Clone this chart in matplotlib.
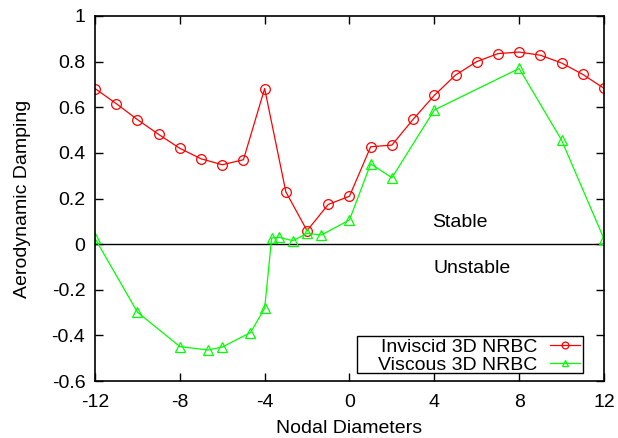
import matplotlib.pyplot as plt
from matplotlib.patches import Rectangle
import numpy as np

plt.rcParams['font.family'] = ['Liberation Sans', 'DejaVu Sans']
plt.rcParams['font.size'] = 14
plt.rcParams['axes.unicode_minus'] = False

# inviscid 3D NRBC: every nodal diameter from -12 to 12
nd_inviscid = np.arange(-12, 13)
damp_inviscid = [0.682, 0.616, 0.546, 0.481, 0.42, 0.374, 0.348, 0.37, 0.682,
                 0.229, 0.059, 0.174, 0.21, 0.427, 0.434, 0.547, 0.652, 0.741,
                 0.80, 0.835, 0.842, 0.828, 0.794, 0.744, 0.683]

# viscous 3D NRBC
nd_viscous = [-12, -10, -8, -6.67, -6, -4.67, -4, -3.67, -3.33, -2.67, -2,
              -1.33, 0, 1, 2, 4, 8, 10, 12]
damp_viscous = [0.025, -0.298, -0.449, -0.464, -0.451, -0.388, -0.281, 0.027,
                0.03, 0.015, 0.047, 0.04, 0.106, 0.352, 0.291, 0.588, 0.77,
                0.456, 0.023]

fig = plt.figure(figsize=(6.18, 4.38), dpi=100)
ax = fig.add_axes([0.1537, 0.1301, 0.8236, 0.8334])

ax.axhline(0, color='black', lw=1.0, zorder=1)
ax.plot(nd_inviscid, damp_inviscid, color='#ff0000', lw=0.9, marker='o',
        ms=7, mfc='none', mec='#ff0000', mew=0.9, label='Inviscid 3D NRBC')
ax.plot(nd_viscous, damp_viscous, color='#00ff00', lw=0.9, marker='^',
        ms=7, mfc='none', mec='#00ff00', mew=0.9, label='Viscous 3D NRBC')

ax.text(5.2, 0.095, 'Stable', ha='center', va='center', fontsize=14)
ax.text(5.77, -0.108, 'Unstable', ha='center', va='center', fontsize=14)

ax.set_xlim(-12, 12)
ax.set_ylim(-0.6, 1)
ax.set_xticks(np.arange(-12, 13, 4))
ax.set_yticks(np.arange(-0.6, 1.01, 0.2))
ax.set_yticklabels(['-0.6', '-0.4', '-0.2', '0', '0.2', '0.4', '0.6', '0.8', '1'])
ax.tick_params(direction='in', top=True, right=True, length=6, width=1,
               labelsize=14)
ax.tick_params(axis='x', pad=9)
ax.tick_params(axis='y', pad=7)
for s in ax.spines.values():
    s.set_linewidth(1.2)

ax.set_xlabel('Nodal Diameters', fontsize=14, labelpad=7)
ax.set_ylabel('Aerodynamic Damping', fontsize=14, labelpad=15)

# key without its own frame, boxed separately
leg = ax.legend(loc='lower right', bbox_to_anchor=(0.9528, 0.02),
                borderaxespad=0, borderpad=0, markerfirst=False,
                frameon=False, fontsize=14, handlelength=1.55,
                handletextpad=0.65, labelspacing=0.0, markerscale=0.7)
for t in leg.get_texts():
    t.set_ha('right')
ax.add_patch(Rectangle((0.5147, 0.021), 0.444, 0.103, transform=ax.transAxes,
                       fill=False, edgecolor='black', lw=1.0, zorder=6))

fig.savefig('out.png', dpi=100)
